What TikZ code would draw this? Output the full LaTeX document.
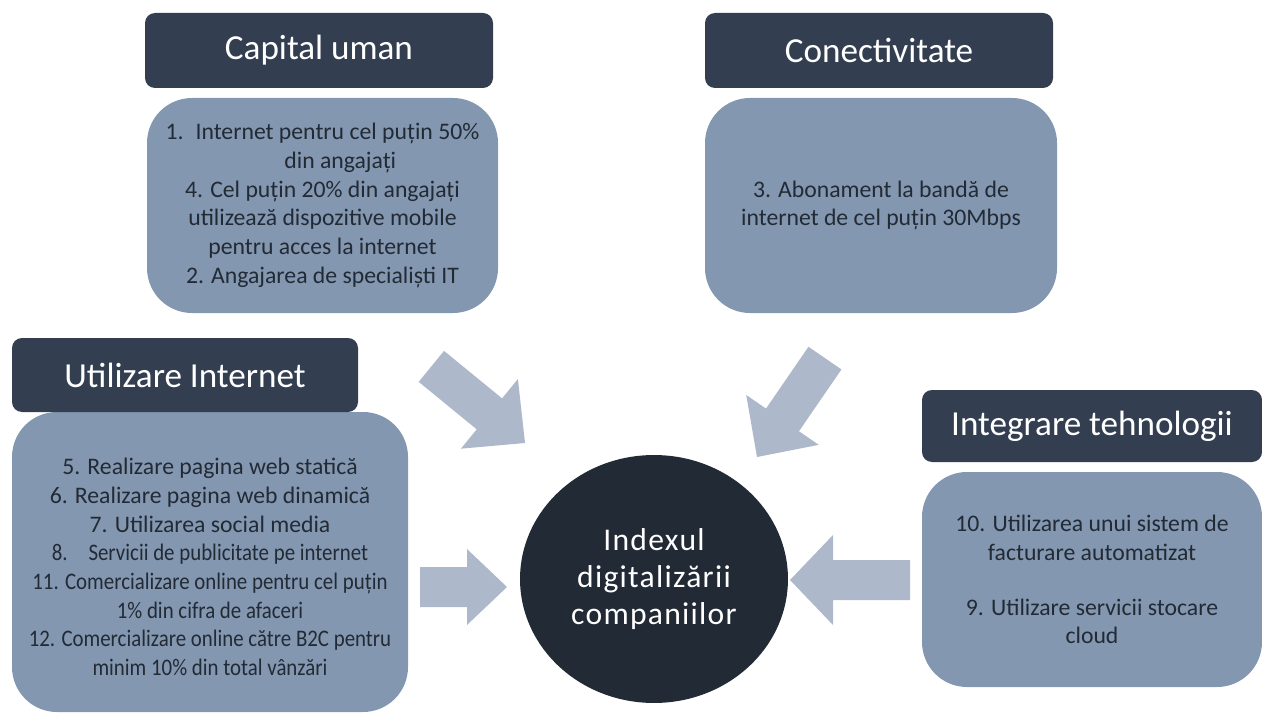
\documentclass[tikz,border=0pt]{standalone}
\usepackage{fontspec}
\setmainfont{Carlito}
\usetikzlibrary{calc,shapes.geometric}

\definecolor{headblue}{HTML}{333F50}
\definecolor{coreblue}{HTML}{222A35}
\definecolor{boxblue}{HTML}{8497B0}
\definecolor{arrowblue}{HTML}{ADB9CA}

\begin{document}
\begin{tikzpicture}
  [x=0.02cm,y=-0.02cm
  ,headfill/.style={fill=headblue,rounded corners=0.2cm}
  ,bodyfill/.style={fill=boxblue,rounded corners=0.9cm}
  ,headtext/.style={text=white,font=\fontsize{20}{22}\selectfont}
  ,bodytext/.style={text=coreblue,align=center,font=\fontsize{13.5}{16.3}\selectfont}
  ,arrowfill/.style={fill=arrowblue}
  ]

  % Box with a text in its middle
  %
  % #1 - node name
  % #2 - top left corner
  % #3 - bottom right corner
  % #4 - box style
  % #5 - text style
  % #6 - text
  \newcommand{\tbox}[6]{
    \path[#4] #2 rectangle #3;
    \node[#5] (#1) at ($#2!0.5!#3$) {#6};
  }

  % Block arrow
  %
  % #1 - tip
  % #2 - direction (degrees)
  % #3 - total length
  % #4 - head length
  % #5 - head half width
  \newcommand{\barrow}[5]{
    \path[arrowfill,shift={#1},rotate=#2]
      (0,0) -- (-#4,#5) -- (-#4,20) -- (-#3,20)
      -- (-#3,-20) -- (-#4,-20) -- (-#4,-#5) -- cycle;
  }

  % Condensed line
  \newcommand{\narrow}[1]{\scalebox{0.88}[1]{#1}}

  \useasboundingbox (0,0) rectangle (1262,713);

  % capital uman
  \tbox{cuBody}{(147,98)}{(498,313)}{bodyfill}{bodytext}
    {1.\hspace{0.5em}Internet pentru cel puțin 50\%\\
     \hspace*{1.5em}din angajați\\
     4. Cel puțin 20\% din angajați\\
     utilizează dispozitive mobile\\
     pentru acces la internet\\
     2. Angajarea de specialiști IT}
  \tbox{cuHead}{(145,13)}{(493,88)}{headfill}{headtext}{Capital uman}

  % conectivitate
  \tbox{coBody}{(705,98)}{(1057,313)}{bodyfill}{bodytext}
    {3. Abonament la bandă de\\
     internet de cel puțin 30Mbps}
  \tbox{coHead}{(705,13)}{(1053,88)}{headfill}{headtext}{Conectivitate}

  % utilizare internet
  \tbox{uiBody}{(12,412)}{(408,712)}{bodyfill}{bodytext,yshift=-0.1cm}
    {5. Realizare pagina web statică\\
     6. Realizare pagina web dinamică\\
     7. Utilizarea social media\\
     \narrow{8.\quad Servicii de publicitate pe internet}\\
     \narrow{11. Comercializare online pentru cel puțin}\\
     \narrow{1\% din cifra de afaceri}\\
     \narrow{12. Comercializare online către B2C pentru}\\
     \narrow{minim 10\% din total vânzări}}
  \tbox{uiHead}{(12,338)}{(358,412)}{headfill}{headtext}{Utilizare Internet}

  % integrare tehnologii
  \tbox{itBody}{(922,472)}{(1262,687)}{bodyfill}{bodytext}
    {10. Utilizarea unui sistem de\\
     facturare automatizat\\[15pt]
     9. Utilizare servicii stocare\\
     cloud}
  \tbox{itHead}{(922,390)}{(1262,462)}{headfill}{headtext}{Integrare tehnologii}

  % index
  \node[ellipse,fill=coreblue,text=white,align=center
       ,minimum width=5.36cm,minimum height=4.96cm
       ,font=\fontsize{18}{21.3}\selectfont\addfontfeature{LetterSpace=4}]
    (core) at (654,579)
    {Indexul\\ digitalizării\\ companiilor};

  % arrows
  \coordinate (cuTip) at (525,443);
  \coordinate (coTip) at (757,457);
  \coordinate (uiTip) at (507,587);
  \coordinate (itTip) at (790,580);

  \barrow{(cuTip)}{-39.3}{121}{46}{45}
  \barrow{(coTip)}{-124.5}{120}{45}{44}
  \barrow{(uiTip)}{0}{87}{40}{38}
  \barrow{(itTip)}{180}{120}{43}{45}

\end{tikzpicture}
\end{document}
